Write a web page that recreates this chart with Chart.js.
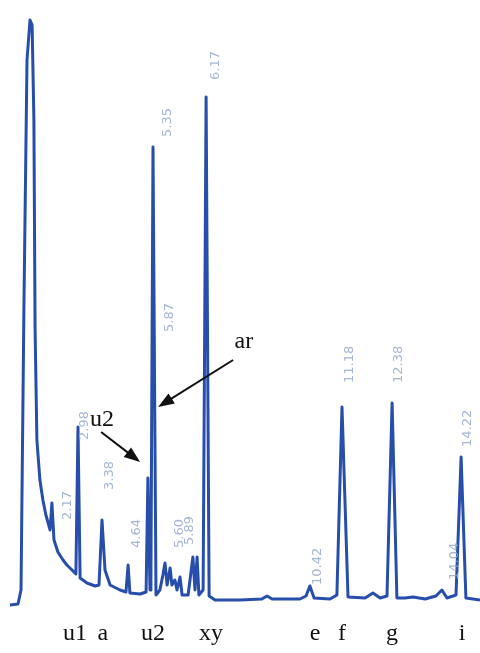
<!doctype html>
<html lang="en">
  <head>
    <meta charset="utf-8">
    <script src="https://cdn.jsdelivr.net/npm/chart.js@4.4.1/dist/chart.umd.min.js"></script>
    <title>Chromatogram</title>
    <style>
        body { margin: 0; background: #fff; }
        #wrap { width: 480px; height: 653px; position: relative; }
    </style>
  </head>
  <body>
    <div id="wrap"><canvas id="chrom"></canvas></div>

    <script>
        // retention time (min) and detector signal
        const times = [-0.07, 0.2, 0.3, 0.4, 0.5, 0.6, 0.67, 0.73, 0.77, 0.83, 0.93, 1.03, 1.13,
            1.27, 1.33, 1.4, 1.53, 1.7, 1.83, 2.0, 2.13, 2.2, 2.27, 2.5, 2.77, 2.9, 3.0, 3.1,
            3.27, 3.6, 3.8, 3.87, 3.93, 4.27, 4.47, 4.53, 4.6, 4.63, 4.7, 4.8, 4.93, 5.03, 5.1,
            5.17, 5.27, 5.33, 5.43, 5.5, 5.6, 5.67, 5.87, 6.03, 6.1, 6.17, 6.23, 6.37, 6.47,
            6.57, 6.77, 7.6, 8.33, 8.5, 8.67, 9.6, 9.8, 9.93, 10.07, 10.6, 10.83, 11.0, 11.2,
            11.77, 12.03, 12.27, 12.5, 12.67, 12.83, 13.1, 13.37, 13.77, 14.13, 14.33, 14.5,
            14.8, 14.97, 15.13, 15.6]
        const signal = [-2, -1, 13, 303, 543, 583, 578, 483, 273, 163, 123, 103, 88,
            73, 100, 63, 51, 43, 38, 33, 29, 176, 25, 20, 17, 18, 83, 33,
            18, 13, 11, 38, 10, 9, 11, 125, 13, 20, 456, 8, 13, 28, 40,
            18, 35, 18, 23, 13, 26, 8, 8, 46, 13, 46, 8, 13, 506,
            7, 3, 3, 4, 7, 4, 4, 7, 17, 5, 4, 8, 196, 6,
            5, 10, 5, 7, 200, 5, 5, 6, 4, 7, 13, 5,
            8, 146, 5, 3]

        // peak names printed under the trace
        const categories = ['u1', 'a', 'u2', 'xy', 'e', 'f', 'g', 'i']
        const catTimes = [2.1, 3.03, 4.7, 6.63, 10.1, 11.0, 12.67, 15.0]

        // integrator retention-time labels (faint, rotated)
        const rtTexts = ['2.98', '3.38', '4.64', '5.35', '5.87', '6.17', '2.17', '5.60', '5.89',
            '10.42', '11.18', '12.38', '14.22', '14.04']
        const rtTimes = [2.43, 3.27, 4.17, 5.2, 5.27, 6.8, 1.87, 5.6, 5.93,
            10.2, 11.27, 12.9, 15.2, 14.77]
        const rtHeights = [163, 113, 55, 466, 271, 523, 83, 55, 58,
            18, 220, 220, 156, 23]

        const notes = {
            draw(chart) {
                const ctx = chart.ctx
                const x = chart.scales.x
                const y = chart.scales.y

                // rotated retention times
                ctx.save()
                ctx.fillStyle = 'rgba(150,170,205,0.85)'
                ctx.font = '13px "DejaVu Sans"'
                ctx.textAlign = 'left'
                ctx.textBaseline = 'middle'
                rtTexts.forEach((t, i) => {
                    ctx.save()
                    ctx.translate(x.getPixelForValue(rtTimes[i]), y.getPixelForValue(rtHeights[i]))
                    ctx.rotate(-Math.PI / 2)
                    ctx.fillText(t, 0, 0)
                    ctx.restore()
                })
                ctx.restore()

                // peak names
                ctx.save()
                ctx.fillStyle = '#111'
                ctx.font = '24px "Liberation Serif"'
                ctx.textAlign = 'center'
                ctx.textBaseline = 'middle'
                categories.forEach((c, i) => {
                    ctx.fillText(c, x.getPixelForValue(catTimes[i]), 634)
                })

                // arrows
                function arrow(t0, h0, t1, h1) {
                    const x0 = x.getPixelForValue(t0), y0 = y.getPixelForValue(h0)
                    const x1 = x.getPixelForValue(t1), y1 = y.getPixelForValue(h1)
                    const a = Math.atan2(y1 - y0, x1 - x0)
                    ctx.strokeStyle = '#111'
                    ctx.lineWidth = 2
                    ctx.beginPath()
                    ctx.moveTo(x0, y0)
                    ctx.lineTo(x1 - 10 * Math.cos(a), y1 - 10 * Math.sin(a))
                    ctx.stroke()
                    ctx.beginPath()
                    ctx.moveTo(x1, y1)
                    ctx.lineTo(x1 - 16 * Math.cos(a) + 6 * Math.sin(a), y1 - 16 * Math.sin(a) - 6 * Math.cos(a))
                    ctx.lineTo(x1 - 16 * Math.cos(a) - 6 * Math.sin(a), y1 - 16 * Math.sin(a) + 6 * Math.cos(a))
                    ctx.closePath()
                    ctx.fill()
                }
                arrow(7.37, 243, 4.87, 196)
                arrow(2.97, 171, 4.27, 141)
                ctx.fillText('ar', x.getPixelForValue(7.73), y.getPixelForValue(261))
                ctx.fillText('u2', x.getPixelForValue(3.0), y.getPixelForValue(183))
                ctx.restore()
            },
            id: 'notes',
            afterDatasetsDraw(chart) { this.draw(chart) }
        }

        new Chart(document.getElementById('chrom'), {
            type: 'line',
            data: {
                datasets: [{
                    data: times.map((t, i) => ({ x: t, y: signal[i] })),
                    borderColor: 'rgb(38,78,170)',
                    borderWidth: 3,
                    pointRadius: 0,
                    tension: 0,
                    borderJoinStyle: 'round',
                    clip: false
                }]
            },
            options: {
                responsive: true,
                maintainAspectRatio: false,
                animation: false,
                layout: { padding: { top: 3, bottom: 40, left: 0, right: 0 } },
                scales: {
                    x: { type: 'linear', min: -0.4, max: 15.6, display: false },
                    y: { min: -10, max: 600, display: false }
                },
                plugins: { legend: { display: false }, tooltip: { enabled: false } }
            },
            plugins: [notes]
        })
    </script>
  </body>
</html>
